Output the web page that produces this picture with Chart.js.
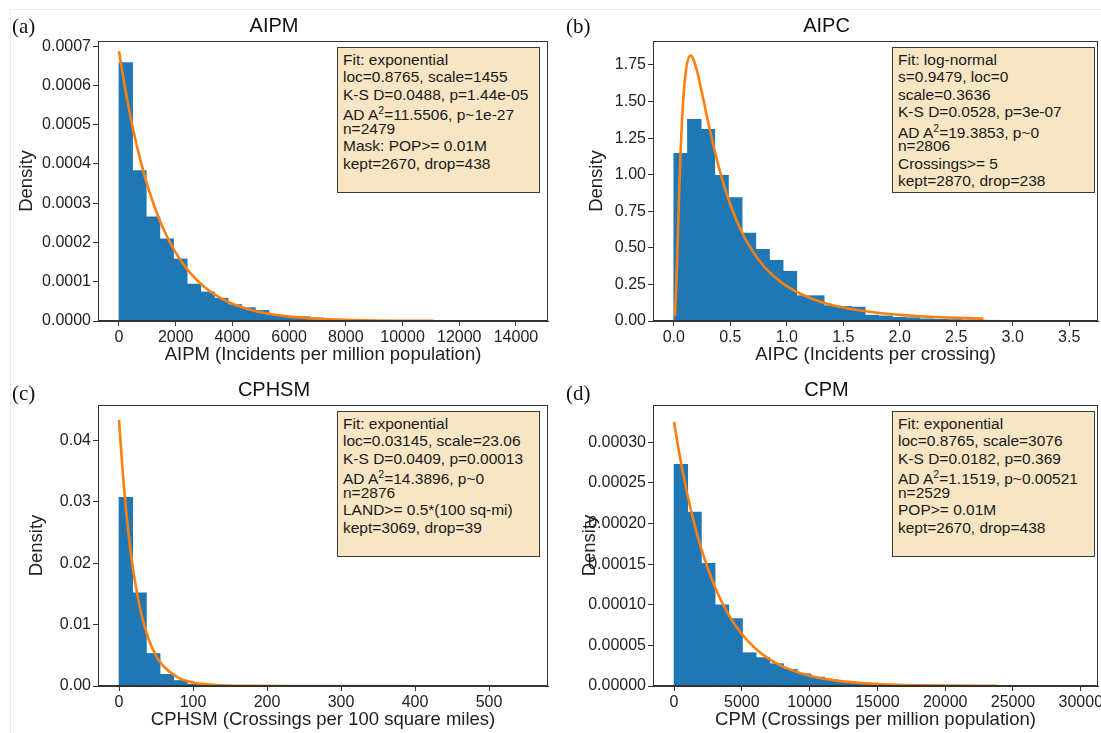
<!DOCTYPE html>
<html><head><meta charset="utf-8">
<script src="https://cdn.jsdelivr.net/npm/chart.js@4.4.1/dist/chart.umd.min.js"></script>
<style>
html,body{margin:0;padding:0;background:#fff}
body{width:1101px;height:733px;position:relative;overflow:hidden;font-family:"Liberation Sans",Arial,sans-serif}
canvas{position:absolute}
.frame{position:absolute;left:10px;top:9px;width:1200px;height:800px;border:1px solid #ececec}
.plabel{position:absolute;font-family:"Liberation Serif","Times New Roman",serif;font-size:21px;line-height:21px;color:#111}
.box{position:absolute;box-sizing:border-box;width:203px;height:146px;background:#f7e5c3;border:1.4px solid #3a3a3a;padding:3px 0 0 5px;color:#1a1a1a}
.box div{white-space:nowrap;height:17.3px;line-height:17.3px;font-size:15.5px}
.box div.ad{margin-top:3.5px;margin-bottom:-3.5px}
.box sup{font-size:10.5px;vertical-align:baseline;position:relative;top:-6px}
</style>
</head><body>
<div class="frame"></div>
<canvas id="cA" width="555" height="368" style="left:0;top:0"></canvas>
<canvas id="cB" width="546" height="368" style="left:555px;top:0"></canvas>
<canvas id="cC" width="555" height="367" style="left:0;top:366px"></canvas>
<canvas id="cD" width="546" height="367" style="left:555px;top:366px"></canvas>

<div class="plabel" style="left:12px;top:16px">(a)</div>
<div class="plabel" style="left:566px;top:16px">(b)</div>
<div class="plabel" style="left:12px;top:383px">(c)</div>
<div class="plabel" style="left:566px;top:383px">(d)</div>

<div class="box" style="left:337px;top:47px">
<div>Fit: exponential</div>
<div>loc=0.8765, scale=1455</div>
<div>K-S D=0.0488, p=1.44e-05</div>
<div class="ad">AD A<sup>2</sup>=11.5506, p~1e-27</div>
<div>n=2479</div>
<div>Mask: POP&gt;= 0.01M</div>
<div>kept=2670, drop=438</div>
</div>
<div class="box" style="left:892px;top:47px">
<div>Fit: log-normal</div>
<div>s=0.9479, loc=0</div>
<div>scale=0.3636</div>
<div>K-S D=0.0528, p=3e-07</div>
<div class="ad">AD A<sup>2</sup>=19.3853, p~0</div>
<div>n=2806</div>
<div>Crossings&gt;= 5</div>
<div>kept=2870, drop=238</div>
</div>
<div class="box" style="left:337px;top:411px">
<div>Fit: exponential</div>
<div>loc=0.03145, scale=23.06</div>
<div>K-S D=0.0409, p=0.00013</div>
<div class="ad">AD A<sup>2</sup>=14.3896, p~0</div>
<div>n=2876</div>
<div>LAND&gt;= 0.5*(100 sq-mi)</div>
<div>kept=3069, drop=39</div>
</div>
<div class="box" style="left:892px;top:411px">
<div>Fit: exponential</div>
<div>loc=0.8765, scale=3076</div>
<div>K-S D=0.0182, p=0.369</div>
<div class="ad">AD A<sup>2</sup>=1.1519, p~0.00521</div>
<div>n=2529</div>
<div>POP&gt;= 0.01M</div>
<div>kept=2670, drop=438</div>
</div>

<script>
// ---------- data ----------
// (a) AIPM histogram (30 bins starting at 0, width 481)
const aipmBinStart = 0, aipmBinWidth = 481;
const aipmDensity = [0.000658,0.000383,0.000265,0.000209,0.000158,0.000094,0.000074,0.000058,0.000042,0.000034,
  0.000027,0.000015,0.000011,0.000011,0.000008,0.000004,0.000003,0.000002,0.0000015,0.000001,
  0.000001,0.0000005,0.0000005,0.0000003,0,0.0000002,0,0,0,0.0000002];
const aipmFitX = [0.88,250,500,750,1000,1500,2000,2500,3000,3500,4000,5000,6000,7000,8000,9000,10000,11100];
const aipmFitY = [0.000687,0.000579,0.000487,0.000411,0.000346,0.000245,0.000174,0.000123,0.0000874,0.000062,0.000044,0.0000221,0.0000111,0.0000056,0.0000028,0.0000014,0.0000007,0.0000003];

// (b) AIPC histogram (30 bins starting at 0, width 0.121)
const aipcBinStart = 0, aipcBinWidth = 0.121;
const aipcDensity = [1.146,1.379,1.310,0.996,0.843,0.601,0.490,0.415,0.340,0.173,
  0.173,0.105,0.100,0.095,0.040,0.035,0.025,0.022,0.015,0.012,
  0.010,0.008,0.006,0.005,0.004,0.003,0.003,0.002,0.002,0.002];
const aipcFitX = [0.01,0.02,0.03,0.05,0.08,0.11,0.15,0.2,0.25,0.3,0.4,0.5,0.6,0.7,0.8,1.0,1.2,1.4,1.6,1.8,2.0,2.3,2.74];
const aipcFitY = [0.032,0.195,0.439,0.941,1.468,1.726,1.814,1.725,1.557,1.374,1.047,0.796,0.610,0.474,0.372,0.238,0.159,0.109,0.078,0.056,0.042,0.0275,0.016];

// (c) CPHSM histogram (30 bins starting at 0, width 18.5)
const cphsmBinStart = 0, cphsmBinWidth = 18.5;
const cphsmDensity = [0.03075,0.01518,0.0053,0.0019,0.0009,0.0003,0.0002,0.00012,0.00008,0.00005,
  0.00003,0.00002,0.00002,0.00001,0.00001,0,0.00001,0,0,0.00001,
  0,0,0,0,0,0,0,0,0,0.00001];
const cphsmFitX = [0.03,5,10,15,20,30,40,50,60,80,100,130,170,230,300,390];
const cphsmFitY = [0.04337,0.0349,0.0281,0.02265,0.01823,0.01182,0.00766,0.00496,0.00322,0.00135,0.000567,0.000154,0.000027,0.000002,0,0];

// (d) CPM histogram (30 bins starting at 0, width 1010)
const cpmBinStart = 0, cpmBinWidth = 1010;
const cpmDensity = [0.000273,0.000214,0.000151,0.000100,0.000083,0.000041,0.000035,0.0000275,0.0000205,0.000015,
  0.000011,0.0000075,0.0000045,0.0000032,0.0000022,0.0000015,0.000001,0.0000008,0.0000006,0.0000004,
  0.0000003,0.0000002,0.00000015,0.0000001,0.0000001,0.00000005,0.00000005,0,0,0.00000005];
const cpmFitX = [0.88,500,1000,1500,2000,3000,4000,5000,6000,7000,8000,10000,12000,14000,16000,18000,20000,23900];
const cpmFitY = [0.000325,0.0002763,0.0002349,0.0001996,0.0001697,0.0001226,0.0000886,0.000064,0.0000462,0.0000334,0.0000241,0.0000126,0.0000066,0.0000034,0.0000018,0.0000009,0.0000005,0.0000001];

// tick values
const aipmXTicks = [0,2000,4000,6000,8000,10000,12000,14000];
const aipmYTicks = [0,0.0001,0.0002,0.0003,0.0004,0.0005,0.0006,0.0007];
const aipcXTicks = [0,0.5,1.0,1.5,2.0,2.5,3.0,3.5];
const aipcYTicks = [0,0.25,0.5,0.75,1.0,1.25,1.5,1.75];
const cphsmXTicks = [0,100,200,300,400,500];
const cphsmYTicks = [0,0.01,0.02,0.03,0.04];
const cpmXTicks = [0,5000,10000,15000,20000,25000,30000];
const cpmYTicks = [0,0.00005,0.0001,0.00015,0.0002,0.00025,0.0003];

// ---------- drawing ----------
const FONT = '"Liberation Sans", Arial, sans-serif';
const histPoints = (start, w, dens) => dens.map((d, i) => ({x: start + w * (i + 0.5), y: d}));
const curvePoints = (xs, ys) => xs.map((x, i) => ({x: x, y: ys[i]}));
const setTicks = vals => s => { s.ticks = vals.map(v => ({value: v})); };

const framePlugin = {
  id: 'frame',
  afterDraw(c) {
    const a = c.chartArea, ctx = c.ctx;
    ctx.save();
    ctx.strokeStyle = '#333';
    ctx.lineWidth = 1;
    ctx.strokeRect(Math.round(a.left) + 0.5, Math.round(a.top) + 0.5,
      Math.round(a.right - a.left) - 1, Math.round(a.bottom - a.top) - 1);
    ctx.restore();
  }
};

function makePanel(id, o) {
  new Chart(document.getElementById(id), {
    type: 'bar',
    data: {
      datasets: [
        {type: 'line', data: curvePoints(o.fitX, o.fitY), borderColor: '#ff7f0e', borderWidth: 2.6,
         pointRadius: 0, cubicInterpolationMode: 'monotone', fill: false, order: 0},
        {type: 'bar', data: histPoints(o.binStart, o.binWidth, o.dens), backgroundColor: '#1f77b4',
         borderWidth: 0, barPercentage: 1, categoryPercentage: 1, order: 1}
      ]
    },
    options: {
      responsive: false, animation: false, devicePixelRatio: 1,
      layout: {padding: {left: 0, right: o.padRight, top: 0, bottom: 0}},
      plugins: {
        legend: {display: false}, tooltip: {enabled: false},
        title: {display: true, text: o.title, color: '#111',
          font: {family: FONT, size: 20, weight: 'normal'},
          padding: {top: o.titleTop, bottom: o.titleBottom}}
      },
      scales: {
        x: {
          type: 'linear', min: o.xMin, max: o.xMax, offset: false,
          grid: {drawOnChartArea: false, tickLength: 5, tickColor: '#333', color: '#333', offset: false},
          border: {color: '#333', width: 1},
          afterBuildTicks: setTicks(o.xTicks),
          ticks: {autoSkip: false, maxRotation: 0, minRotation: 0,
            padding: 2, color: '#222', font: {family: FONT, size: 16}, callback: o.xFmt},
          title: {display: true, text: o.xTitle, color: '#222', font: {family: FONT, size: 18.5},
            padding: {top: 0, bottom: 1.9}},
          afterFit: s => { s.height = 47; s.paddingLeft = 0; s.paddingRight = 0; }
        },
        y: {
          type: 'linear', min: 0, max: o.yMax,
          grid: {drawOnChartArea: false, tickLength: 5, tickColor: '#333', color: '#333'},
          border: {color: '#333', width: 1},
          afterBuildTicks: setTicks(o.yTicks),
          ticks: {autoSkip: false, padding: 2, color: '#222',
            font: {family: FONT, size: 16}, callback: o.yFmt},
          title: {display: true, text: 'Density', color: '#222', font: {family: FONT, size: 18.5},
            padding: {top: o.yTitlePad, bottom: 0}},
          afterFit: s => { s.width = 98; s.paddingTop = 0; s.paddingBottom = 0; }
        }
      }
    },
    plugins: [framePlugin]
  });
}

makePanel('cA', {title: 'AIPM', titleTop: 14.5, titleBottom: 2.5, padRight: 7,
  fitX: aipmFitX, fitY: aipmFitY, binStart: aipmBinStart, binWidth: aipmBinWidth, dens: aipmDensity,
  xMin: -740, xMax: 15130, xTicks: aipmXTicks, xFmt: v => String(v),
  xTitle: 'AIPM (Incidents per million population)',
  yMax: 0.000713, yTicks: aipmYTicks, yFmt: v => v.toFixed(4), yTitlePad: 16});

makePanel('cB', {title: 'AIPC', titleTop: 14.5, titleBottom: 2.5, padRight: 3,
  fitX: aipcFitX, fitY: aipcFitY, binStart: aipcBinStart, binWidth: aipcBinWidth, dens: aipcDensity,
  xMin: -0.184, xMax: 3.755, xTicks: aipcXTicks, xFmt: v => v.toFixed(1),
  xTitle: 'AIPC (Incidents per crossing)',
  yMax: 1.914, yTicks: aipcYTicks, yFmt: v => v.toFixed(2), yTitlePad: 31});

makePanel('cC', {title: 'CPHSM', titleTop: 12.5, titleBottom: 2.5, padRight: 7,
  fitX: cphsmFitX, fitY: cphsmFitY, binStart: cphsmBinStart, binWidth: cphsmBinWidth, dens: cphsmDensity,
  xMin: -28.4, xMax: 579.7, xTicks: cphsmXTicks, xFmt: v => String(v),
  xTitle: 'CPHSM (Crossings per 100 square miles)',
  yMax: 0.0458, yTicks: cphsmYTicks, yFmt: v => v.toFixed(2), yTitlePad: 26});

makePanel('cD', {title: 'CPM', titleTop: 12.5, titleBottom: 2.5, padRight: 3,
  fitX: cpmFitX, fitY: cpmFitY, binStart: cpmBinStart, binWidth: cpmBinWidth, dens: cpmDensity,
  xMin: -1549, xMax: 31270, xTicks: cpmXTicks, xFmt: v => String(v),
  xTitle: 'CPM (Crossings per million population)',
  yMax: 0.000346, yTicks: cpmYTicks, yFmt: v => v.toFixed(5), yTitlePad: 24});
</script>
</body></html>
